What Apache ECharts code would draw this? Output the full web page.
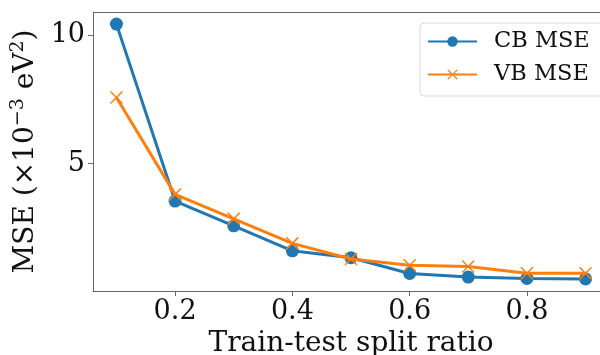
<!DOCTYPE html>
<html>
<head>
<meta charset="utf-8">
<script src="https://cdn.jsdelivr.net/npm/echarts@6/dist/echarts.min.js"></script>
<style>
  html, body { margin: 0; padding: 0; background: #fff; }
  #chart { width: 600px; height: 355px; }
</style>
</head>
<body>
<div id="chart"></div>
<script>
// Train-test split ratios and mean squared errors (×10^-3 eV^2)
const splitRatios = [0.1, 0.2, 0.3, 0.4, 0.5, 0.6, 0.7, 0.8, 0.9];
const cbMse = [10.42, 3.55, 2.59, 1.62, 1.35, 0.74, 0.60, 0.55, 0.53];
const vbMse = [7.57, 3.81, 2.86, 1.91, 1.30, 1.06, 1.01, 0.75, 0.75];
const xTicks = [0.2, 0.4, 0.6, 0.8];
const yTicks = [5, 10];

const FONT = '"DejaVu Serif", "Liberation Serif", serif';
const BLUE = '#1f77b4';
const ORANGE = '#ff7f0e';
const CROSS = 'path://M0,0.8L0.8,0L5,4.2L9.2,0L10,0.8L5.8,5L10,9.2L9.2,10L5,5.8L0.8,10L0,9.2L4.2,5Z';

const chart = echarts.init(document.getElementById('chart'), null, { renderer: 'canvas' });

const pairs = arr => splitRatios.map((x, i) => [x, arr[i]]);

chart.setOption({
  animation: false,
  backgroundColor: '#fff',
  grid: { left: 93, right: -9, top: 12, bottom: 64, containLabel: false, outerBoundsMode: 'none' },
  legend: {
    left: 420, top: 23,
    orient: 'vertical',
    itemWidth: 49, itemHeight: 13, itemGap: 10,
    padding: [7, 16, 10, 7],
    borderColor: '#d9d9d9', borderWidth: 1, borderRadius: 4,
    backgroundColor: '#fff',
    textStyle: { fontFamily: FONT, fontSize: 22.5, color: '#111', padding: [0, 0, 0, 12] },
    data: ['CB MSE', 'VB MSE']
  },
  xAxis: {
    type: 'value',
    min: 0.06, max: 0.94,
    name: 'Train-test split ratio',
    nameLocation: 'middle',
    nameGap: 38,
    nameTextStyle: { fontFamily: FONT, fontSize: 28, color: '#111' },
    axisLine: { show: true, lineStyle: { color: '#666', width: 1 } },
    axisTick: { show: true, length: 5, lineStyle: { color: '#666' }, customValues: xTicks },
    axisLabel: { fontFamily: FONT, fontSize: 27, color: '#111', margin: 7, customValues: xTicks },
    splitLine: { show: false }
  },
  yAxis: {
    type: 'value',
    min: 0.06, max: 10.89,
    name: '{a|MSE (×10}{s|−3}{a| eV}{s|2}{a|)}',
    nameLocation: 'middle',
    nameGap: 50,
    nameRotate: 90,
    nameTextStyle: {
      rich: {
        a: { fontFamily: FONT, fontSize: 28, color: '#111' },
        s: { fontFamily: FONT, fontSize: 19, color: '#111', padding: [0, 0, 15, 0] }
      }
    },
    axisLine: { show: true, lineStyle: { color: '#666', width: 1 } },
    axisTick: { show: true, length: 5, lineStyle: { color: '#666' }, customValues: yTicks },
    axisLabel: { fontFamily: FONT, fontSize: 27, color: '#111', margin: 8, customValues: yTicks },
    splitLine: { show: false }
  },
  graphic: [{
    type: 'line',
    shape: { x1: 93, y1: 12.5, x2: 600, y2: 12.5 },
    style: { stroke: '#666', lineWidth: 1 },
    silent: true
  }],
  series: [
    {
      name: 'CB MSE',
      type: 'line',
      data: pairs(cbMse),
      symbol: 'circle',
      symbolSize: 13,
      showAllSymbol: true,
      lineStyle: { color: BLUE, width: 3 },
      itemStyle: { color: BLUE },
      z: 2
    },
    {
      name: 'VB MSE',
      type: 'line',
      data: pairs(vbMse),
      symbol: CROSS,
      symbolSize: 13,
      showAllSymbol: true,
      lineStyle: { color: ORANGE, width: 3 },
      itemStyle: { color: ORANGE },
      z: 3
    }
  ]
});
</script>
</body>
</html>
